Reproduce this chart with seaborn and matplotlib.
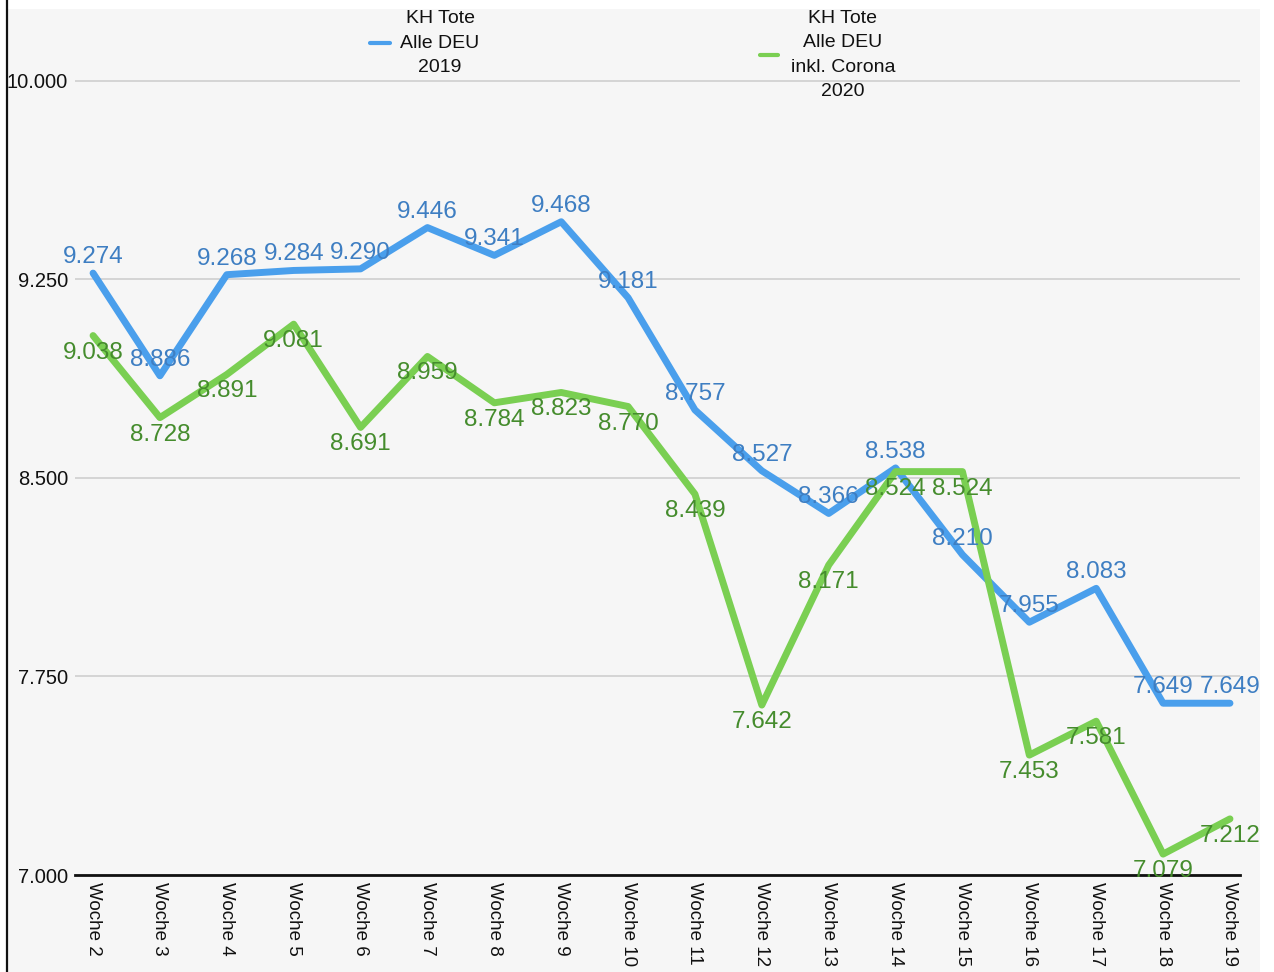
import matplotlib
matplotlib.use("Agg")
import matplotlib.pyplot as plt
from matplotlib.patches import Rectangle
from matplotlib.lines import Line2D
from matplotlib.ticker import FixedLocator, FuncFormatter
import seaborn as sns
import pandas as pd

weeks = [f"Woche {i}" for i in range(2, 20)]
tote_2019 = [9274, 8886, 9268, 9284, 9290, 9446, 9341, 9468, 9181, 8757,
             8527, 8366, 8538, 8210, 7955, 8083, 7649, 7649]
tote_2020 = [9038, 8728, 8891, 9081, 8691, 8959, 8784, 8823, 8770, 8439,
             7642, 8171, 8524, 8524, 7453, 7581, 7079, 7212]
series_names = ["KH Tote\nAlle DEU\n2019", "KH Tote\nAlle DEU\ninkl. Corona\n2020"]
y_ticks = [7000, 7750, 8500, 9250, 10000]

line_colors = ["#4A9FEC", "#7ACF52"]
text_colors = ["#3E7EC2", "#458C2D"]

sns.set_theme(style="white")
plt.rcParams["font.family"] = ["Liberation Sans", "DejaVu Sans"]

df = pd.DataFrame({
    "idx": list(range(len(weeks))) * 2,
    "value": tote_2019 + tote_2020,
    "series": [series_names[0]] * len(weeks) + [series_names[1]] * len(weeks),
})

W, H = 1274, 972
fig = plt.figure(figsize=(W / 100, H / 100), dpi=100)
fig.patch.set_facecolor("white")
fig.add_artist(Rectangle((8 / W, 0), (1260 - 8) / W, 1 - 9 / H,
                         transform=fig.transFigure, facecolor="#F6F6F6",
                         edgecolor="none", zorder=-10))
fig.add_artist(Line2D([7 / W, 7 / W], [0, 1], transform=fig.transFigure,
                      color="#111111", lw=1.6))

ax = fig.add_axes([75 / W, 1 - 875 / H, (1240 - 75) / W, (875 - 10) / H])
ax.set_facecolor("none")

sns.lineplot(data=df, x="idx", y="value", hue="series", hue_order=series_names,
             palette=line_colors, linewidth=5, ax=ax, sort=False, legend=False)

for vals, tcol, off in [(tote_2019, text_colors[0], 16), (tote_2020, text_colors[1], -17)]:
    for i, v in enumerate(vals):
        ax.annotate(f"{v:,}".replace(",", "."), (i, v), xytext=(0, off),
                    textcoords="offset pixels", ha="center", va="center",
                    fontsize=17.5, color=tcol, zorder=5)

ax.set_xlim(-0.27, 17.15)
ax.set_ylim(7000, 10268)
ax.yaxis.set_major_locator(FixedLocator(y_ticks))
ax.yaxis.set_major_formatter(FuncFormatter(lambda v, p: f"{int(v):,}".replace(",", ".")))
ax.set_xticks(range(len(weeks)))
ax.set_xticklabels(weeks, rotation=270, ha="center", va="top", fontsize=13.5)
ax.tick_params(axis="y", labelsize=14.5, pad=5, length=0, labelcolor="#111111")
ax.tick_params(axis="x", pad=5, length=0, labelcolor="#111111")
ax.set_xlabel("")
ax.set_ylabel("")
ax.grid(axis="y", color="#CFCFCF", linewidth=1.2)
ax.grid(axis="x", visible=False)
for s in ["top", "right", "left"]:
    ax.spines[s].set_visible(False)
ax.spines["bottom"].set_color("#111111")
ax.spines["bottom"].set_linewidth(2)
ax.spines["bottom"].set_zorder(4)

# legend (manual layout: entries top-aligned, handle centred on each text block)
legend_items = [
    (series_names[0], line_colors[0], 440, 43, (370, 390)),
    (series_names[1], line_colors[1], 843, 55, (760, 778)),
]
for label, col, tx, ty, (hx0, hx1) in legend_items:
    fig.text(tx / W, 1 - ty / H, label, ha="center", va="center",
             multialignment="center", fontsize=14, linespacing=1.55,
             color="#111111")
    fig.add_artist(Line2D([hx0 / W, hx1 / W], [1 - ty / H, 1 - ty / H],
                          transform=fig.transFigure, color=col, lw=3))

fig.savefig("out.png", dpi=100, facecolor=fig.get_facecolor())
